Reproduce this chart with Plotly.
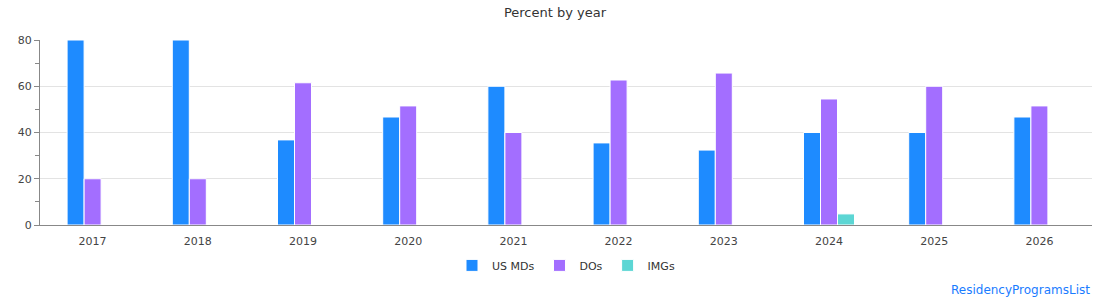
import plotly.graph_objects as go

years = ["2017", "2018", "2019", "2020", "2021", "2022", "2023", "2024", "2025", "2026"]
us_mds = [80, 80, 36.8, 46.7, 60, 35.5, 32.4, 40, 40, 46.7]
dos = [20, 20, 61.5, 51.5, 40, 62.7, 65.7, 54.5, 60, 51.5]
imgs = [None, None, None, None, None, None, None, 4.8, None, None]

series = [
    ("US MDs", us_mds, "#1e8bff"),
    ("DOs", dos, "#a36eff"),
    ("IMGs", imgs, "#5cd6d4"),
]

fig = go.Figure()
for name, vals, col in series:
    fig.add_trace(go.Bar(
        x=years, y=vals, name=name,
        marker=dict(color=col, line=dict(color="white", width=1)),
    ))

font = "DejaVu Sans, Verdana, sans-serif"
fig.update_layout(
    width=1110, height=300,
    margin=dict(l=40, r=18, t=40, b=75),
    paper_bgcolor="white", plot_bgcolor="white",
    barmode="group", bargap=0.515, bargroupgap=0,
    font=dict(family=font, size=11, color="#444"),
    title=dict(text="Percent by year", x=0.5, xanchor="center", y=0.96, yanchor="middle",
               font=dict(family=font, size=13, color="#333")),
    showlegend=True,
    legend=dict(orientation="h", x=0.5, xanchor="center", y=-0.14, yanchor="top",
                itemwidth=30, font=dict(family=font, size=11, color="#333")),
    xaxis=dict(showline=True, linecolor="#888", linewidth=1, ticks="outside", ticklen=6,
               tickcolor="rgba(0,0,0,0)", showgrid=False,
               tickfont=dict(size=11, color="#444")),
    yaxis=dict(range=[0, 80], dtick=20, showline=True, linecolor="#888", linewidth=1,
               ticks="outside", ticklen=5, tickcolor="#888",
               gridcolor="#e3e3e3", gridwidth=1, zeroline=False,
               minor=dict(dtick=10, ticks="outside", ticklen=4, tickcolor="#888", showgrid=False),
               tickfont=dict(size=11, color="#444")),
    annotations=[dict(text="ResidencyProgramsList", xref="paper", yref="paper",
                      x=1.0, xanchor="right", y=-0.3, yanchor="top", showarrow=False,
                      font=dict(family=font, size=12, color="#1a7cff"))],
)

fig.write_html("out.html")
